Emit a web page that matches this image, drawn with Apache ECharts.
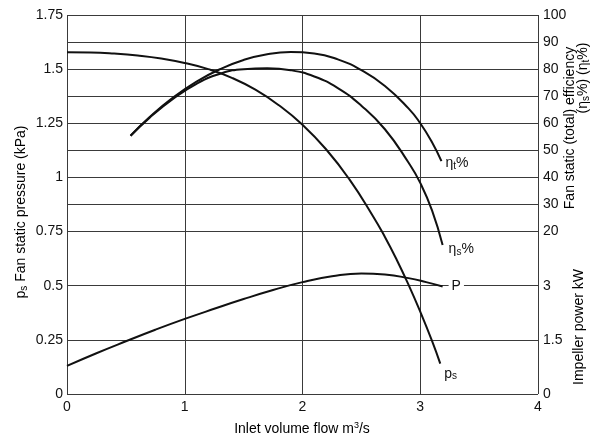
<!DOCTYPE html>
<html>
<head>
<meta charset="utf-8">
<script src="https://cdn.jsdelivr.net/npm/echarts@6/dist/echarts.min.js"></script>
<style>
  html, body { margin: 0; padding: 0; background: #fff; }
  #chart { width: 602px; height: 438px; }
</style>
</head>
<body>
<div id="chart"></div>
<script>
// Fan characteristic: static pressure, efficiencies and impeller power vs inlet flow
const flowTicks = [0, 1, 2, 3, 4];                              // m3/s
const pressureTicks = [0, 0.25, 0.5, 0.75, 1, 1.25, 1.5, 1.75]; // kPa
const efficiencyTicks = [20, 30, 40, 50, 60, 70, 80, 90, 100];  // %
const powerTicks = [0, 1.5, 3];                                 // kW

// [flow m3/s, static pressure kPa]
const staticPressure = [
  [0, 1.578], [0.2, 1.577], [0.4, 1.572], [0.6, 1.563], [0.8, 1.549],
  [1.0, 1.528], [1.2, 1.5], [1.4, 1.46], [1.6, 1.405], [1.8, 1.333],
  [2.0, 1.243], [2.2, 1.13], [2.4, 0.99], [2.6, 0.82], [2.7, 0.725],
  [2.8, 0.62], [2.9, 0.505], [3.0, 0.38], [3.1, 0.245], [3.17, 0.14]
];
// [flow, total efficiency %]
const totalEfficiency = [
  [0.54, 55.4], [0.7, 62.2], [0.9, 69.5], [1.1, 75.4], [1.3, 80.0],
  [1.5, 83.4], [1.7, 85.5], [1.9, 86.3], [2.1, 85.8], [2.3, 83.6],
  [2.5, 79.6], [2.7, 73.8], [2.9, 65.5], [3.0, 60.0], [3.1, 53.0], [3.18, 46.0]
];
// [flow, static efficiency %]
const staticEfficiency = [
  [0.54, 55.4], [0.7, 62.0], [0.9, 69.0], [1.1, 74.6], [1.3, 78.3],
  [1.5, 80.0], [1.7, 80.3], [1.9, 79.6], [2.1, 77.3], [2.3, 73.0],
  [2.5, 66.5], [2.7, 57.8], [2.9, 45.5], [3.0, 38.0], [3.1, 27.8], [3.19, 15.0]
];
// [flow, impeller power kW]
const impellerPower = [
  [0, 0.78], [0.25, 1.13], [0.5, 1.46], [0.75, 1.78], [1.0, 2.08],
  [1.25, 2.36], [1.5, 2.63], [1.75, 2.88], [2.0, 3.1], [2.25, 3.26],
  [2.5, 3.34], [2.7, 3.31], [2.9, 3.21], [3.05, 3.1], [3.19, 2.98]
];

const FONT = 'Liberation Sans, Arial, sans-serif';
const INK = '#111';
const GRID = '#3a3a3a';
const HIDE = 'rgba(0,0,0,0)';

const chart = echarts.init(document.getElementById('chart'), null, { renderer: 'canvas' });

// pressure axis draws the lower grid lines only (0 .. 0.5)
const pressureLineColors = pressureTicks.map(v => (v <= 0.5 ? GRID : HIDE));
// efficiency axis spans -40..100 so that 0 kPa lines up; grid lines from 20 % upward
const effValues = [];
for (let v = -40; v <= 100; v += 10) effValues.push(v);
const effLineColors = effValues.map(v => (v >= 20 ? GRID : HIDE));

const labelRich = {
  m: { fontFamily: FONT, fontSize: 14, color: INK, lineHeight: 16 },
  s: { fontFamily: FONT, fontSize: 10, color: INK, verticalAlign: 'bottom', lineHeight: 16, padding: [5, 0, 0, 0] }
};

function curve(name, data, yAxisIndex, labelText, labelOpts) {
  return {
    name, type: 'line', data, xAxisIndex: 0, yAxisIndex,
    smooth: 0.5, showSymbol: false, symbol: 'none',
    lineStyle: { color: INK, width: 2 },
    endLabel: Object.assign({
      show: true, formatter: labelText, distance: 4,
      rich: labelRich, color: INK, fontFamily: FONT, fontSize: 14
    }, labelOpts || {}),
    silent: true
  };
}

chart.setOption({
  animation: false,
  backgroundColor: '#fff',
  grid: { left: 67, right: 64, top: 15, bottom: 44, containLabel: false },
  xAxis: {
    type: 'value', min: 0, max: 4, interval: 1,
    axisLine: { show: false }, axisTick: { show: false },
    axisLabel: {
      color: INK, fontFamily: FONT, fontSize: 14, margin: 6,
      formatter: v => (flowTicks.includes(v) ? String(v) : '')
    },
    splitLine: { show: true, lineStyle: { color: GRID, width: 1 } }
  },
  yAxis: [
    {
      type: 'value', position: 'left', min: 0, max: 1.75, interval: 0.25,
      axisLine: { show: false }, axisTick: { show: false },
      axisLabel: {
        color: INK, fontFamily: FONT, fontSize: 14, margin: 4,
        formatter: v => (pressureTicks.includes(v) ? String(v) : '')
      },
      splitLine: { show: true, lineStyle: { color: pressureLineColors, width: 1 } }
    },
    {
      type: 'value', position: 'right', min: -40, max: 100, interval: 10,
      axisLine: { show: false }, axisTick: { show: false },
      axisLabel: {
        color: INK, fontFamily: FONT, fontSize: 14, margin: 5,
        formatter: v => (efficiencyTicks.includes(v) ? String(v) : '')
      },
      splitLine: { show: true, lineStyle: { color: effLineColors, width: 1 } }
    },
    {
      type: 'value', position: 'right', min: 0, max: 10.5, interval: 1.5,
      axisLine: { show: false }, axisTick: { show: false },
      axisLabel: {
        color: INK, fontFamily: FONT, fontSize: 14, margin: 5,
        formatter: v => (powerTicks.includes(v) ? String(v) : '')
      },
      splitLine: { show: false }
    }
  ],
  series: [
    curve('ps', staticPressure, 0, '{m|p}{s|s}', { offset: [0, 10] }),
    curve('eta_t', totalEfficiency, 1, '{m|η}{s|t}{m|%}', { offset: [0, 2] }),
    curve('eta_s', staticEfficiency, 1, '{m|η}{s|s}{m|%}', { offset: [2, 4] }),
    curve('P', impellerPower, 2, '{m|P}', {
      offset: [2, 0], backgroundColor: '#fff', padding: [0, 3, 0, 3]
    })
  ],
  graphic: [
    {
      type: 'text', x: 21, y: 212, rotation: Math.PI / 2, silent: true,
      style: {
        text: '{m|p}{s|s}{m| Fan static pressure (kPa)}',
        align: 'center', verticalAlign: 'middle', rich: labelRich
      }
    },
    {
      type: 'text', x: 570, y: 128, rotation: Math.PI / 2, silent: true,
      style: {
        text: '{m|Fan static (total) efficiency}',
        align: 'center', verticalAlign: 'middle', rich: labelRich
      }
    },
    {
      type: 'text', x: 583, y: 78, rotation: Math.PI / 2, silent: true,
      style: {
        text: '{m|(η}{s|s}{m|%) (η}{s|t}{m|%)}',
        align: 'center', verticalAlign: 'middle', rich: labelRich
      }
    },
    {
      type: 'text', x: 579, y: 327, rotation: Math.PI / 2, silent: true,
      style: {
        text: '{m|Impeller power kW}',
        align: 'center', verticalAlign: 'middle', rich: labelRich
      }
    },
    {
      type: 'text', x: 302, y: 429, silent: true,
      style: {
        text: '{m|Inlet volume flow m}{u|3}{m|/s}',
        align: 'center', verticalAlign: 'middle',
        rich: {
          m: labelRich.m,
          u: { fontFamily: FONT, fontSize: 9, color: INK, verticalAlign: 'top', lineHeight: 16, padding: [0, 0, 6, 0] }
        }
      }
    }
  ]
});
</script>
</body>
</html>
